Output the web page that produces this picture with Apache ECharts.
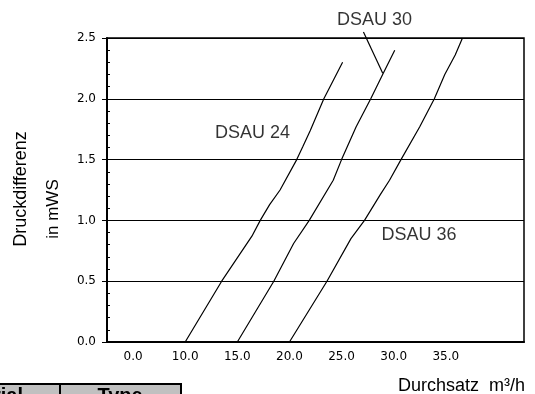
<!DOCTYPE html>
<html>
<head>
<meta charset="utf-8">
<script src="https://cdn.jsdelivr.net/npm/echarts@6/dist/echarts.min.js"></script>
<style>
  html, body { margin: 0; padding: 0; background: #fff; }
  #chart { width: 535px; height: 394px; }
</style>
</head>
<body>
<div id="chart"></div>
<script>
// x tick labels sit between ticks (as in the original sheet)
const xLabels = ['0.0', '10.0', '15.0', '20.0', '25.0', '30.0', '35.0', '']
const yLabels = ['0.0', '0.5', '1.0', '1.5', '2.0', '2.5']

// Durchsatz m³/h vs Druckdifferenz mWS
const dsau24 = [[10.0, 0], [13.5, 0.5], [16.4, 0.87], [17.2, 1.0], [18.1, 1.13], [19.1, 1.25],
  [20.7, 1.5], [21.3, 1.61], [22.0, 1.74], [23.3, 2.0], [25.1, 2.3]]
const dsau30 = [[15.0, 0], [18.5, 0.5], [20.4, 0.81], [21.9, 1.0], [24.2, 1.33], [25.0, 1.5],
  [26.4, 1.77], [27.8, 2.0], [29.0, 2.21], [30.1, 2.4]]
const dsau36 = [[20.0, 0], [23.6, 0.5], [25.9, 0.85], [27.2, 1.0], [28.7, 1.21], [29.6, 1.33],
  [30.7, 1.5], [32.5, 1.77], [33.9, 2.0], [34.9, 2.2], [35.9, 2.36], [36.6, 2.5]]
const leader30 = [[27.1, 2.55], [28.95, 2.21]]
const curveNames = [
  { name: 'DSAU 24', value: [16.46, 1.715] },
  { name: 'DSAU 30', value: [28.16, 2.648] },
  { name: 'DSAU 36', value: [32.43, 0.88] }
]

const chart = echarts.init(document.getElementById('chart'))
const black = '#000'
const tickFont = { color: black, fontFamily: 'DejaVu Sans', fontSize: 12 }

function curve(data) {
  return {
    type: 'line',
    xAxisIndex: 1,
    data: data,
    symbol: 'none',
    smooth: false,
    lineStyle: { color: black, width: 1.2 }
  }
}

chart.setOption({
  animation: false,
  grid: {
    left: 107, right: 11, top: 38, bottom: 52,
    show: true, borderColor: black, borderWidth: 1.5
  },
  xAxis: [
    {
      type: 'category',
      data: xLabels,
      boundaryGap: true,
      axisLine: { lineStyle: { color: black, width: 2 } },
      axisTick: { length: 4, lineStyle: { color: black } },
      axisLabel: Object.assign({ margin: 9, interval: 0 }, tickFont),
      splitLine: { show: false }
    },
    { type: 'value', min: 2.5, max: 42.5, show: false }
  ],
  yAxis: [
    {
      type: 'value',
      min: 0, max: 2.5, interval: 0.5,
      axisLine: { show: true, lineStyle: { color: black, width: 2 } },
      axisTick: { show: true, length: 5, lineStyle: { color: black } },
      axisLabel: Object.assign({ margin: 11, formatter: (v, i) => yLabels[i] }, tickFont),
      splitLine: { show: true, lineStyle: { color: black, width: 1.2 } }
    },
    {
      type: 'value',
      min: 0, max: 2.5, interval: 0.1,
      position: 'left',
      axisLine: { show: false },
      axisTick: { show: true, inside: true, length: 3, lineStyle: { color: black } },
      axisLabel: { show: false },
      splitLine: { show: false }
    }
  ],
  series: [
    curve(dsau24),
    curve(dsau30),
    curve(dsau36),
    Object.assign(curve(leader30), { clip: false }),
    {
      type: 'scatter',
      xAxisIndex: 1,
      clip: false,
      symbolSize: 0,
      data: curveNames,
      label: {
        show: true, position: 'inside', formatter: '{b}',
        color: black, fontFamily: 'Liberation Sans', fontSize: 18
      }
    }
  ],
  graphic: [
    {
      type: 'text', x: 21, y: 189, rotation: Math.PI / 2,
      style: { text: 'Druckdifferenz', fill: black, font: '18px "Liberation Sans"', align: 'center', verticalAlign: 'middle' }
    },
    {
      type: 'text', x: 53, y: 209, rotation: Math.PI / 2,
      style: { text: 'in mWS', fill: black, font: '17px "Liberation Sans"', align: 'center', verticalAlign: 'middle' }
    },
    {
      type: 'text', x: 525, y: 386,
      style: { text: 'Durchsatz  m³/h', fill: black, font: '18px "Liberation Sans"', align: 'right', verticalAlign: 'middle' }
    },
    {
      type: 'rect', shape: { x: -2, y: 384, width: 183, height: 30 },
      style: { fill: '#c0c0c0', stroke: black, lineWidth: 2 }
    },
    {
      type: 'line', shape: { x1: 60, y1: 384, x2: 60, y2: 394 },
      style: { stroke: black, lineWidth: 2 }
    },
    {
      type: 'text', x: 23, y: 396,
      style: { text: 'Material', fill: black, font: 'bold 20px "Liberation Sans"', align: 'right', verticalAlign: 'middle' }
    },
    {
      type: 'text', x: 120, y: 396,
      style: { text: 'Type', fill: black, font: 'bold 20px "Liberation Sans"', align: 'center', verticalAlign: 'middle' }
    }
  ]
})
</script>
</body>
</html>
